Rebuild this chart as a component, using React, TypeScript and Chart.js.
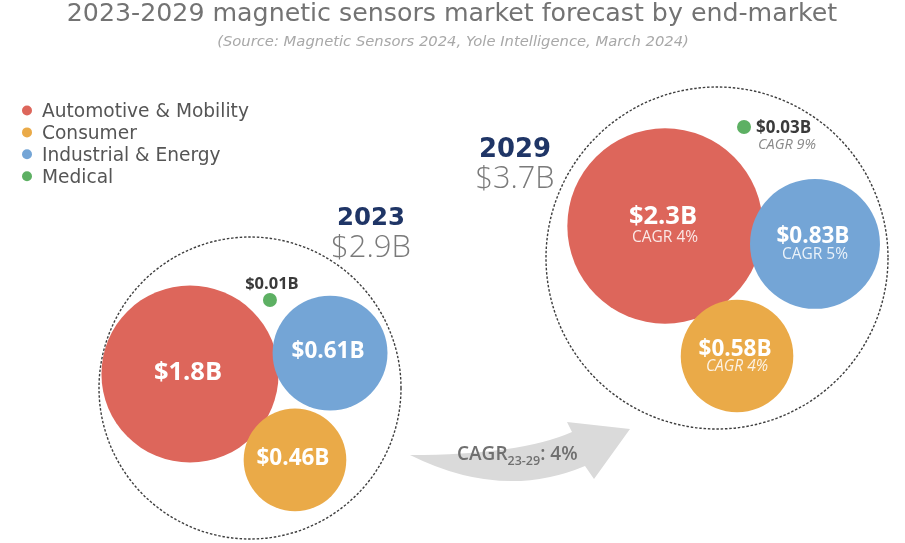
import React, { useEffect, useRef } from 'react';
import { Chart, registerables } from 'chart.js';

Chart.register(...registerables);

// ---------- data ----------
const categories = ['Automotive & Mobility', 'Consumer', 'Industrial & Energy', 'Medical'];
const years = ['2023', '2029'];
const values2023 = [1.8, 0.46, 0.61, 0.01];
const values2029 = [2.3, 0.58, 0.83, 0.03];
const cagr2329 = [4, 4, 5, 9];
const totals = [2.9, 3.7];
const overallCagr = 4;

// ---------- styles / layout ----------
const COLORS = ['#DD665B', '#EAAA48', '#74A5D6', '#5DB063'];
const W = 905;
const H = 543;
const OPEN = '"Open Sans", "DejaVu Sans", sans-serif';
const DEJA = '"DejaVu Sans", "Open Sans", sans-serif';

// packing layout: first bubble anchored, others placed at an angle from it
const GROUPS = [
  { anchor: [190, 374], angles: [0, 39.3, -8.5, -42.8], gaps: [0, -4.2, -4.4, 13.4], ring: [250, 388, 151], head: [371, 225, 257], headFit: [68, 80] },
  { anchor: [665, 226], angles: [0, 61.0, 6.8, -51.4], gaps: [0, -5.4, -11.6, 22], ring: [717, 258, 171], head: [515, 157, 188], headFit: [72, 79] },
];

const radiusOf = (v: number) => (v < 0.05 ? 7 : 70 * Math.pow(v, 0.4));

function layoutGroup(gi: number, vals: number[]) {
  const g = GROUPS[gi];
  const rs = vals.map(radiusOf);
  const [ax, ay] = g.anchor;
  return vals.map((v, i) => {
    if (i === 0) return { x: ax, y: ay, r: rs[0], v };
    const d = rs[0] + rs[i] + g.gaps[i];
    const a = (g.angles[i] * Math.PI) / 180;
    return { x: ax + d * Math.cos(a), y: ay + d * Math.sin(a), r: rs[i], v };
  });
}

const valuesByYear = [values2023, values2029];
const points = valuesByYear.map((vals, gi) => layoutGroup(gi, vals));

type TOpts = {
  size: number;
  family?: string;
  weight?: string | number;
  style?: string;
  color: string;
  align?: CanvasTextAlign;
  fit?: number;
};

function drawText(ctx: CanvasRenderingContext2D, text: string, x: number, y: number, o: TOpts) {
  const family = o.family || OPEN;
  const weight = o.weight || 'normal';
  const style = o.style || 'normal';
  let s = o.size;
  ctx.font = `${style} ${weight} ${s}px ${family}`;
  if (o.fit) {
    const w = ctx.measureText(text).width;
    s = (s * o.fit) / w;
    ctx.font = `${style} ${weight} ${s}px ${family}`;
  }
  ctx.fillStyle = o.color;
  ctx.textAlign = o.align || 'center';
  ctx.textBaseline = 'alphabetic';
  ctx.fillText(text, x, y);
  return ctx.measureText(text).width;
}

const fmt = (v: number) => `$${v}B`;

const decorPlugin = {
  id: 'decor',
  beforeDatasetsDraw(chart: any) {
    const ctx: CanvasRenderingContext2D = chart.ctx;
    const xs = chart.scales.x;
    const ys = chart.scales.y;
    ctx.save();
    // dashed enclosing rings
    GROUPS.forEach((g) => {
      const [cx, cy, r] = g.ring;
      ctx.beginPath();
      ctx.setLineDash([2.5, 1.8]);
      ctx.lineWidth = 1.4;
      ctx.strokeStyle = '#3e3e3e';
      ctx.arc(xs.getPixelForValue(cx), ys.getPixelForValue(cy), r, 0, Math.PI * 2);
      ctx.stroke();
    });
    ctx.setLineDash([]);
    // growth arrow
    const P = (x: number, y: number): [number, number] => [xs.getPixelForValue(x), ys.getPixelForValue(y)];
    ctx.beginPath();
    ctx.moveTo(...P(410, 455));
    ctx.quadraticCurveTo(...P(520, 455), ...P(572, 432));
    ctx.lineTo(...P(567, 422));
    ctx.lineTo(...P(630, 429));
    ctx.lineTo(...P(594, 479));
    ctx.lineTo(...P(585, 466));
    ctx.quadraticCurveTo(...P(502, 501), ...P(410, 455));
    ctx.closePath();
    ctx.fillStyle = '#DADADA';
    ctx.fill();
    ctx.restore();
  },
  afterDatasetsDraw(chart: any) {
    const ctx: CanvasRenderingContext2D = chart.ctx;
    ctx.save();
    // title & subtitle
    drawText(ctx, '2023-2029 magnetic sensors market forecast by end-market', 452, 21, {
      size: 25, family: DEJA, color: '#737373', fit: 771,
    });
    drawText(ctx, '(Source: Magnetic Sensors 2024, Yole Intelligence, March 2024)', 453, 46, {
      size: 14, family: DEJA, weight: 200, style: 'italic', color: '#a8a8a8', fit: 472,
    });
    // legend
    categories.forEach((c, i) => {
      const y = 110.5 + i * 21.9;
      ctx.beginPath();
      ctx.fillStyle = COLORS[i];
      ctx.arc(27, y, 5, 0, Math.PI * 2);
      ctx.fill();
      drawText(ctx, c, 42, y + 6.5, { size: 18.6, family: DEJA, color: '#555555', align: 'left' });
    });
    // year headings
    GROUPS.forEach((g, gi) => {
      drawText(ctx, years[gi], g.head[0], g.head[1], {
        size: 26, family: DEJA, weight: 'bold', color: '#1F3566', fit: g.headFit[0],
      });
      drawText(ctx, `$${totals[gi]}B`, g.head[0], g.head[2], {
        size: 30, weight: 300, color: '#7a7a7a', fit: g.headFit[1],
      });
    });
    // bubble labels from element positions
    categories.forEach((c, di) => {
      const meta = chart.getDatasetMeta(di);
      meta.data.forEach((el: any, yi: number) => {
        const v = valuesByYear[yi][di];
        const r = points[yi][di].r;
        const x = el.x;
        const y = el.y;
        if (di === 3) {
          if (yi === 0) {
            drawText(ctx, fmt(v), x + 2, y - 11, { size: 16.5, weight: 'bold', color: '#3a3a3a' });
          } else {
            drawText(ctx, fmt(v), x + 12, y + 6, { size: 17, weight: 'bold', color: '#3a3a3a', align: 'left' });
            drawText(ctx, `CAGR ${cagr2329[di]}%`, x + 14, y + 22, {
              size: 14.5, style: 'italic', color: '#8a8a8a', align: 'left',
            });
          }
          return;
        }
        const size = r > 80 ? 25.5 : 22.5;
        const cap = size * 0.72;
        if (yi === 0) {
          drawText(ctx, fmt(v), x - 2, y - 3 + cap / 2, { size, weight: 'bold', color: '#ffffff' });
        } else {
          const vy = di === 0 ? y - 11 : y - 8.5;
          drawText(ctx, fmt(v), x - 2, vy + cap / 2, { size, weight: 'bold', color: '#ffffff' });
          drawText(ctx, `CAGR ${cagr2329[di]}%`, x, y + 10 + 5.5, {
            size: 15.5,
            style: di === 1 ? 'italic' : 'normal',
            color: 'rgba(255,255,255,0.85)',
          });
        }
      });
    });
    // arrow caption
    let cx = 457;
    cx += drawText(ctx, 'CAGR', cx, 460, { size: 19, weight: 600, color: '#707070', align: 'left' });
    cx += drawText(ctx, '23-29', cx, 465, { size: 12.5, weight: 600, color: '#707070', align: 'left' });
    drawText(ctx, `: ${overallCagr}%`, cx, 460, { size: 19, weight: 600, color: '#707070', align: 'left' });
    ctx.restore();
  },
};

export default function App() {
  const ref = useRef<HTMLCanvasElement | null>(null);
  useEffect(() => {
    if (!ref.current) return;
    const drawOrder = [4, 2, 3, 1];
    const chart = new Chart(ref.current, {
      type: 'bubble',
      data: {
        datasets: categories.map((c, di) => ({
          label: c,
          data: years.map((_, yi) => ({ x: points[yi][di].x, y: points[yi][di].y, r: points[yi][di].r })),
          backgroundColor: COLORS[di],
          hoverBackgroundColor: COLORS[di],
          borderWidth: 0,
          hoverBorderWidth: 0,
          order: drawOrder[di],
          clip: false as any,
        })),
      },
      options: {
        responsive: false,
        animation: false,
        events: [],
        layout: { padding: 0, autoPadding: false },
        scales: {
          x: { type: 'linear', min: 0, max: W, display: false },
          y: { type: 'linear', min: 0, max: H, reverse: true, display: false },
        },
        plugins: {
          legend: { display: false },
          tooltip: { enabled: false },
          title: { display: false },
        },
      },
      plugins: [decorPlugin],
    });
    return () => chart.destroy();
  }, []);
  return (
    <div style={{ position: 'absolute', left: 0, top: 0, width: W, height: H, background: '#ffffff' }}>
      <canvas ref={ref} width={W} height={H} style={{ width: W, height: H, display: 'block' }} />
    </div>
  );
}
